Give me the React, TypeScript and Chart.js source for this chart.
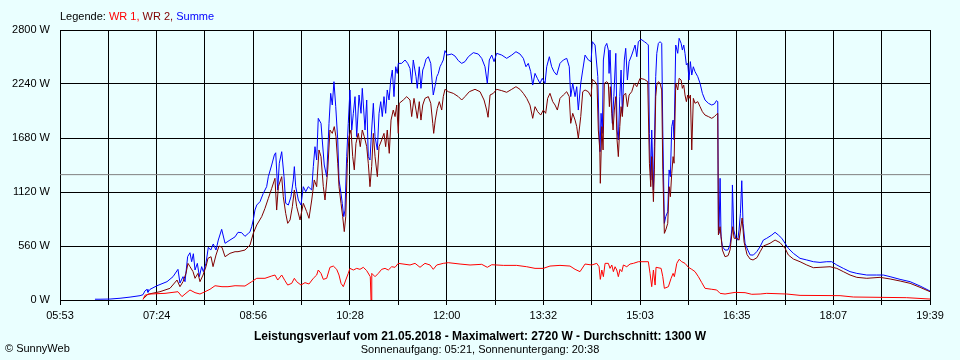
import { useEffect, useRef } from "react";
import { Chart, registerables } from "chart.js";

Chart.register(...registerables);

// ---- labels / constants ----
const TICK_LABELS = ["05:53", "07:24", "08:56", "10:28", "12:00", "13:32", "15:03", "16:35", "18:07", "19:39"];
const GRID_PER_LABEL = 2;
const Y_TICKS = [0, 560, 1120, 1680, 2240, 2800];
const DATE = "21.05.2018";
const MAX_WATT = 2720;
const AVG_WATT = 1300;
const SUNRISE = "05:21";
const SUNSET = "20:38";

// ---- series: [minute of day, watt] ----
const WR1: [number, number][] = [
  [431.8, 5], [433.7, 50], [438.4, 62], [452.7, 69], [465.0, 86], [468.8, 35], [471.7, 62], [476.4, 104], [481.2, 76],
  [485.9, 62], [490.7, 86], [495.4, 111], [500.2, 148], [506.8, 138], [512.5, 138], [519.2, 148], [528.6, 145], [535.0, 190],
  [539.8, 225], [547.6, 225], [554.0, 249], [557.1, 259], [559.7, 207], [563.5, 259], [566.6, 200], [569.2, 155], [573.0, 173],
  [575.5, 225], [577.7, 190], [581.8, 155], [585.6, 180], [589.4, 166], [593.5, 225], [596.7, 259], [598.2, 311], [600.8, 276],
  [603.0, 214], [606.2, 225], [609.3, 339], [612.5, 352], [615.7, 318], [617.9, 259], [619.8, 173], [622.0, 138], [624.3, 207],
  [626.7, 276], [628.3, 328], [631.5, 311], [634.7, 328], [637.8, 318], [641.0, 339], [644.2, 304], [647.6, 242], [648.3, 0],
  [649.0, 276], [652.1, 242], [655.2, 276], [658.4, 318], [661.6, 328], [664.7, 311], [667.9, 345], [671.1, 339], [674.2, 380],
  [685.3, 363], [690.1, 380], [694.8, 339], [699.5, 380], [704.3, 363], [707.4, 318], [710.7, 363], [716.9, 380], [721.7, 387],
  [732.8, 373], [742.3, 363], [753.4, 370], [758.7, 339], [762.9, 366], [773.9, 359], [786.6, 359], [796.1, 345], [804.0, 328],
  [811.9, 328], [818.2, 352], [827.7, 359], [837.2, 352], [842.0, 318], [846.7, 294], [851.5, 373], [857.9, 363], [862.6, 380],
  [864.8, 345], [866.0, 214], [867.4, 311], [868.9, 242], [870.5, 380], [873.6, 380], [875.2, 328], [876.9, 363], [878.4, 294],
  [880.0, 345], [881.6, 311], [883.1, 242], [884.7, 318], [886.4, 294], [887.9, 363], [891.1, 345], [894.2, 373], [897.4, 380],
  [902.1, 397], [911.6, 397], [913.2, 276], [914.8, 138], [916.4, 311], [918.0, 155], [918.9, 339], [923.7, 328], [925.3, 242],
  [926.8, 121], [930.6, 138], [933.2, 225], [935.1, 276], [936.3, 242], [938.6, 380], [940.8, 422], [943.3, 397], [946.4, 380],
  [949.6, 339], [952.8, 318], [955.9, 294], [959.1, 242], [962.3, 180], [965.4, 121], [971.8, 111], [976.5, 104], [979.7, 69],
  [984.4, 62], [993.9, 79], [1003.4, 76], [1009.8, 59], [1017.7, 62], [1024.0, 69], [1043.0, 62], [1055.6, 48], [1093.6, 45],
  [1106.2, 31], [1156.9, 24], [1179.0, 10],
];

const WR2: [number, number][] = [
  [431.8, 10], [436.5, 60], [447.9, 86], [457.4, 121], [464.1, 207], [466.9, 138], [469.8, 190], [472.6, 276], [474.5, 380],
  [476.4, 346], [479.3, 294], [481.2, 225], [484.0, 276], [485.9, 190], [488.8, 259], [491.6, 346], [493.5, 432], [496.4, 449],
  [498.3, 346], [501.1, 466], [504.0, 560], [506.8, 546], [509.7, 449], [514.4, 484], [519.2, 501], [522.0, 501], [528.6, 518],
  [533.4, 570], [536.5, 691], [539.8, 778], [544.5, 864], [547.6, 950], [550.8, 1054], [554.0, 1158], [557.1, 1262], [558.7, 933],
  [560.3, 1175], [563.5, 1279], [565.0, 1071], [567.3, 898], [569.2, 795], [571.4, 830], [573.6, 968], [575.5, 1141], [577.7, 968],
  [580.9, 830], [584.0, 1003], [587.2, 916], [589.4, 847], [592.0, 1037], [594.4, 1245], [596.7, 1175], [598.9, 1556], [600.8, 1487],
  [603.0, 1175], [604.6, 1037], [607.2, 1349], [609.3, 1763], [611.5, 1728], [613.4, 1798], [615.0, 1694], [616.7, 1418], [617.9, 1175],
  [619.8, 1003], [621.4, 864], [622.9, 709], [624.3, 864], [625.8, 1418], [627.4, 1694], [629.3, 1763], [630.9, 1487], [632.4, 1349],
  [634.0, 1625], [636.2, 1728], [638.1, 1590], [640.0, 1763], [641.9, 1694], [644.2, 1590], [645.7, 1418], [647.3, 1175], [648.9, 1383],
  [650.5, 1728], [652.1, 1487], [654.3, 1279], [655.9, 1590], [658.4, 1659], [660.6, 1728], [662.2, 1590], [663.7, 1763], [665.6, 1521],
  [667.3, 1866], [669.4, 1970], [671.1, 1902], [672.7, 2022], [674.2, 1728], [675.1, 2040], [678.9, 2074], [682.2, 2109], [685.3, 2074],
  [686.9, 1902], [689.1, 2091], [691.0, 1970], [692.2, 1884], [694.1, 2057], [695.7, 1866], [697.4, 2022], [699.5, 2091], [702.7, 2109],
  [705.0, 2040], [706.9, 1832], [707.8, 1728], [709.3, 1866], [711.2, 1987], [713.1, 2057], [715.4, 1970], [716.9, 2109], [718.5, 2185],
  [721.7, 2160], [726.4, 2143], [731.2, 2109], [734.4, 2074], [737.5, 2109], [741.6, 2160], [747.0, 2185], [751.8, 2160], [755.6, 2074],
  [758.1, 1970], [759.4, 1895], [761.3, 2126], [764.4, 2143], [767.6, 2185], [772.4, 2171], [777.1, 2154], [781.9, 2185], [785.9, 2212],
  [789.7, 2185], [792.9, 2143], [796.1, 2091], [799.2, 2022], [801.8, 1884], [804.0, 2005], [806.5, 1953], [809.4, 1918], [811.9, 1970],
  [814.1, 1936], [816.0, 2091], [818.2, 2143], [820.8, 2057], [823.0, 2022], [825.2, 1970], [827.7, 2091], [830.9, 2126], [834.1, 2160],
  [836.5, 2109], [837.9, 1832], [839.8, 1936], [842.0, 1866], [843.6, 1798], [845.1, 1677], [847.4, 1902], [849.3, 2160], [851.5, 2178],
  [854.6, 2160], [857.2, 2109], [858.4, 2288], [861.0, 2264], [862.9, 2229], [864.1, 1763], [865.5, 1556], [866.0, 1210], [867.4, 1798],
  [868.6, 1556], [869.8, 2247], [872.1, 2264], [873.6, 2247], [874.6, 2005], [875.5, 2212], [876.9, 1936], [878.1, 1763], [879.3, 1970],
  [880.7, 2109], [881.9, 1659], [883.1, 1487], [884.5, 1798], [885.7, 2005], [886.9, 1902], [888.2, 2126], [890.1, 2143], [891.7, 2005],
  [893.3, 2126], [895.8, 2160], [898.3, 2247], [900.6, 2212], [903.7, 2299], [907.8, 2288], [911.0, 2264], [912.6, 1418], [913.9, 1175],
  [914.8, 1487], [916.4, 1020], [917.3, 1349], [918.6, 2109], [919.6, 2229], [921.1, 2264], [922.7, 2247], [924.3, 2178], [925.3, 1349],
  [926.8, 691], [928.1, 726], [930.0, 795], [931.3, 1175], [932.5, 1071], [933.8, 1314], [935.1, 1487], [936.0, 1418], [937.6, 2247],
  [939.5, 2178], [940.8, 2299], [942.7, 2281], [943.9, 2195], [945.2, 2229], [946.4, 2126], [947.7, 2057], [949.0, 2126], [950.2, 2091],
  [951.5, 2126], [952.8, 1556], [954.3, 2091], [955.9, 2040], [958.5, 2057], [960.7, 2005], [962.9, 1953], [965.4, 1918], [968.6, 1902],
  [971.8, 1884], [974.3, 1902], [976.2, 1924], [977.5, 1936], [978.1, 674], [979.7, 760], [981.9, 518], [984.4, 449], [987.3, 460],
  [989.2, 520], [991.7, 760], [993.0, 640], [995.8, 640], [997.7, 620], [1000.6, 850], [1002.5, 600], [1005.3, 470], [1008.2, 425],
  [1011.0, 415], [1014.8, 440], [1017.7, 500], [1020.8, 560], [1027.1, 588], [1031.9, 622], [1036.6, 595], [1041.4, 536], [1044.5, 467],
  [1049.3, 425], [1055.6, 397], [1062.0, 363], [1068.3, 335], [1074.6, 339], [1084.1, 345], [1090.5, 328], [1096.7, 294], [1103.1, 259],
  [1109.5, 235], [1119.0, 225], [1131.6, 235], [1141.1, 218], [1150.6, 197], [1160.1, 173], [1169.6, 131], [1179.0, 86],
];

const SUMME: [number, number][] = [
  [386.2, 8], [391.0, 8], [400.5, 10], [410.0, 18], [419.5, 30], [429.0, 45], [431.8, 55], [433.7, 95], [435.6, 110], [436.5, 80],
  [438.4, 110], [445.1, 148], [454.6, 190], [460.3, 242], [465.0, 318], [466.9, 176], [469.8, 242], [471.7, 190], [474.2, 450],
  [476.4, 490], [478.0, 397], [479.6, 480], [481.2, 311], [483.4, 380], [485.3, 242], [487.5, 346], [489.1, 294], [491.6, 380],
  [493.8, 546], [496.1, 518], [498.5, 581], [501.1, 518], [503.3, 622], [506.5, 733], [509.7, 588], [514.4, 622], [519.2, 655],
  [522.0, 702], [525.5, 698], [528.6, 660], [531.8, 691], [533.4, 707], [535.0, 760], [536.5, 830], [538.1, 933], [539.8, 985],
  [542.9, 1020], [546.0, 1106], [549.2, 1175], [550.8, 1279], [554.0, 1400], [556.5, 1504], [557.8, 1527], [559.7, 1141], [561.2, 1418],
  [563.5, 1538], [565.7, 1279], [567.3, 1003], [569.8, 985], [572.3, 1071], [574.5, 1245], [575.5, 1383], [576.8, 1175], [579.3, 1037],
  [581.8, 985], [584.0, 1175], [586.3, 1123], [588.7, 1175], [592.0, 1141], [593.5, 1383], [595.1, 1590], [596.7, 1452], [598.2, 1884],
  [600.8, 1832], [602.0, 1659], [603.9, 1400], [606.2, 1279], [608.4, 1832], [610.0, 2143], [611.5, 2022], [613.1, 2264], [614.8, 2005],
  [616.7, 1659], [617.9, 1245], [619.8, 1106], [621.0, 1003], [622.4, 864], [623.6, 933], [625.2, 1487], [626.7, 1832], [628.3, 2178],
  [630.0, 1763], [631.5, 1936], [633.1, 2109], [634.7, 1694], [636.9, 2126], [638.8, 1936], [640.0, 2195], [642.6, 1763], [644.2, 2074],
  [645.7, 1487], [647.3, 1452], [648.9, 1763], [650.5, 2040], [652.1, 1694], [654.3, 1556], [655.9, 1936], [657.5, 2057], [659.0, 1902],
  [660.6, 2109], [662.2, 1936], [663.7, 2178], [665.4, 2074], [667.0, 2281], [668.5, 2385], [670.1, 2109], [671.7, 2419], [673.2, 2350],
  [674.2, 2454], [677.4, 2454], [680.6, 2489], [683.1, 2454], [685.3, 2402], [686.9, 2247], [688.4, 2489], [691.0, 2316], [692.2, 2195],
  [694.1, 2419], [695.7, 2195], [697.4, 2385], [698.6, 2419], [700.5, 2496], [702.7, 2523], [705.0, 2454], [706.2, 2281], [707.4, 2126],
  [709.0, 2212], [710.7, 2316], [712.2, 2350], [713.8, 2419], [715.4, 2454], [716.9, 2489], [718.5, 2586], [720.7, 2540], [724.9, 2551],
  [728.0, 2530], [731.2, 2482], [734.4, 2454], [737.5, 2472], [740.7, 2523], [745.4, 2565], [750.1, 2551], [753.4, 2506], [756.5, 2419],
  [758.7, 2247], [760.6, 2489], [762.9, 2540], [765.1, 2472], [767.6, 2558], [772.4, 2540], [777.1, 2506], [781.9, 2540], [785.9, 2575],
  [789.7, 2551], [792.9, 2506], [795.4, 2419], [797.6, 2454], [799.9, 2368], [801.8, 2229], [804.0, 2350], [806.2, 2299], [808.7, 2247],
  [810.9, 2299], [813.5, 2247], [815.1, 2419], [817.6, 2523], [819.8, 2419], [822.0, 2368], [824.6, 2333], [827.7, 2454], [830.9, 2489],
  [834.1, 2506], [836.5, 2419], [837.9, 2109], [839.8, 2247], [842.0, 2109], [843.6, 2212], [845.1, 1970], [847.4, 2247], [849.3, 2385],
  [851.5, 2540], [854.6, 2489], [857.2, 2472], [858.4, 2679], [861.0, 2644], [863.6, 2316], [864.8, 1763], [865.7, 1538], [866.7, 1936],
  [867.9, 1728], [868.9, 2489], [870.5, 2627], [872.1, 2661], [873.6, 2592], [874.3, 2350], [875.2, 2592], [876.2, 2281], [877.4, 1832],
  [878.8, 2109], [880.7, 2558], [881.9, 1763], [883.1, 1659], [884.5, 2109], [885.7, 2385], [886.9, 1936], [888.8, 2489], [890.1, 2610],
  [891.7, 2281], [893.3, 2472], [895.8, 2540], [897.4, 2592], [899.0, 2644], [900.6, 2523], [902.1, 2679], [904.7, 2703], [907.8, 2679],
  [910.1, 2661], [911.6, 2644], [912.6, 1728], [913.9, 1244], [914.8, 1763], [916.4, 1141], [917.3, 1590], [918.6, 2316], [919.6, 2558],
  [921.1, 2661], [922.7, 2679], [924.3, 2661], [925.3, 1763], [926.8, 795], [928.1, 864], [930.0, 916], [931.3, 1349], [932.5, 1279],
  [933.8, 1798], [935.1, 1866], [936.0, 1659], [937.6, 2644], [939.5, 2558], [940.8, 2714], [942.7, 2661], [943.9, 2592], [945.2, 2644],
  [946.4, 2558], [947.7, 2437], [949.0, 2454], [950.2, 2281], [951.5, 2472], [952.8, 2333], [954.3, 2419], [955.9, 2368], [958.5, 2316],
  [960.7, 2247], [962.9, 2143], [965.4, 2074], [968.6, 2040], [971.8, 2022], [974.3, 2033], [976.2, 2067], [977.5, 2057], [978.1, 726],
  [978.7, 691], [979.7, 1262], [980.6, 657], [981.9, 553], [984.4, 518], [987.0, 518], [989.2, 570], [990.8, 726], [991.4, 1193],
  [992.7, 726], [994.6, 640], [996.5, 622], [997.7, 726], [999.0, 899], [1000.3, 1237], [1001.5, 795], [1003.4, 588], [1006.0, 518],
  [1008.2, 467], [1011.3, 466], [1014.5, 501], [1017.7, 553], [1020.8, 622], [1024.0, 640], [1028.8, 674], [1031.9, 702], [1035.0, 674],
  [1038.3, 640], [1041.4, 588], [1044.5, 536], [1049.3, 484], [1055.6, 432], [1062.0, 415], [1068.3, 397], [1074.6, 390], [1081.0, 397],
  [1085.7, 397], [1090.5, 363], [1096.7, 328], [1103.1, 294], [1109.5, 276], [1119.0, 259], [1128.4, 259], [1134.7, 259], [1141.1, 242],
  [1150.6, 214], [1160.1, 190], [1169.6, 145], [1179.0, 93],
];

const BG = "#eaffff";
const FONT = "'Liberation Sans', Arial, sans-serif";

const toMin = (s: string) => {
  const [h, m] = s.split(":").map(Number);
  return h * 60 + m;
};

export default function App() {
  const ref = useRef<HTMLCanvasElement | null>(null);

  useEffect(() => {
    document.body.style.margin = "0";
    document.body.style.background = BG;
    const canvas = ref.current;
    if (!canvas) return;
    const xMin = toMin(TICK_LABELS[0]);
    const xMax = toMin(TICK_LABELS[TICK_LABELS.length - 1]);
    const steps = (TICK_LABELS.length - 1) * GRID_PER_LABEL;
    const gridValues = Array.from({ length: steps + 1 }, (_, i) => xMin + ((xMax - xMin) * i) / steps);
    const toPts = (arr: [number, number][]) => arr.map(([x, y]) => ({ x, y }));
    const line = (data: any, color: string) => ({
      data,
      borderColor: color,
      borderWidth: 1,
      pointRadius: 0,
      tension: 0,
      fill: false,
    });

    const chart = new Chart(canvas, {
      type: "line",
      data: {
        datasets: [
          { label: "WR 1", ...line(toPts(WR1), "#ff0000") },
          { label: "WR 2", ...line(toPts(WR2), "#800000") },
          { label: "Summe", ...line(toPts(SUMME), "#0000ff") },
          { label: "Durchschnitt", ...line([{ x: xMin, y: AVG_WATT }, { x: xMax, y: AVG_WATT }], "#808080") },
        ],
      },
      options: {
        animation: false,
        responsive: false,
        events: [],
        layout: { padding: { top: 30, right: 30, left: 0, bottom: 0 } },
        plugins: { legend: { display: false }, tooltip: { enabled: false } },
        scales: {
          x: {
            type: "linear",
            min: xMin,
            max: xMax,
            afterBuildTicks: (s: any) => {
              s.ticks = gridValues.map((v) => ({ value: v }));
            },
            afterFit: (s: any) => {
              s.height = 60;
            },
            ticks: {
              autoSkip: false,
              maxRotation: 0,
              padding: 4,
              color: "#000",
              font: { family: FONT, size: 11 },
              callback: (_v: any, i: number) => (i % GRID_PER_LABEL === 0 ? TICK_LABELS[i / GRID_PER_LABEL] : ""),
            },
            grid: { color: "#000", lineWidth: 1, drawTicks: true, tickLength: 5, tickColor: "#000" },
            border: { color: "#000", width: 1 },
          },
          y: {
            min: 0,
            max: Y_TICKS[Y_TICKS.length - 1],
            afterBuildTicks: (s: any) => {
              s.ticks = Y_TICKS.map((v) => ({ value: v }));
            },
            afterFit: (s: any) => {
              s.width = 60;
            },
            ticks: {
              padding: 10,
              color: "#000",
              font: { family: FONT, size: 11 },
              callback: (v: any) => `${v} W`,
            },
            grid: { color: "#000", lineWidth: 1, drawTicks: false },
            border: { color: "#000", width: 1 },
          },
        },
      },
    } as any);
    return () => chart.destroy();
  }, []);

  const text: React.CSSProperties = {
    position: "absolute",
    fontFamily: FONT,
    fontSize: 11,
    lineHeight: "13px",
    color: "#000",
    whiteSpace: "nowrap",
  };

  return (
    <div style={{ position: "relative", width: 960, height: 360, background: BG, overflow: "hidden" }}>
      <canvas ref={ref} width={960} height={360} style={{ position: "absolute", left: 0, top: 0, width: 960, height: 360 }} />
      <div style={{ ...text, left: 60, top: 10 }}>
        Legende: <span style={{ color: "#ff0000" }}>WR 1,</span> <span style={{ color: "#800000" }}>WR 2,</span>{" "}
        <span style={{ color: "#0000ff" }}>Summe</span>
      </div>
      <div style={{ ...text, left: 0, width: 960, top: 329, textAlign: "center", fontWeight: "bold", fontSize: 12, lineHeight: "14px" }}>
        {`Leistungsverlauf vom ${DATE} - Maximalwert: ${MAX_WATT} W - Durchschnitt: ${AVG_WATT} W`}
      </div>
      <div style={{ ...text, left: 0, width: 960, top: 343, textAlign: "center" }}>
        {`Sonnenaufgang: ${SUNRISE}, Sonnenuntergang: ${SUNSET}`}
      </div>
      <div style={{ ...text, left: 5, top: 342 }}>© SunnyWeb</div>
    </div>
  );
}
